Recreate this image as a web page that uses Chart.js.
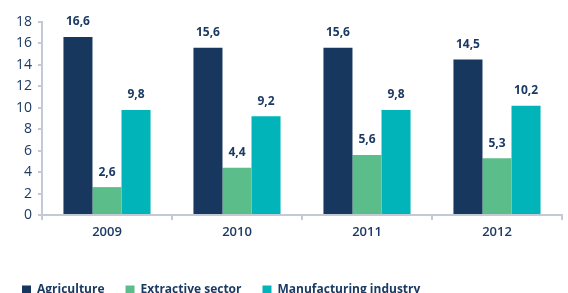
<!DOCTYPE html>
<html lang="en">
<head>
    <meta charset="UTF-8">
    <title>Sector shares</title>
    <script src="https://cdn.jsdelivr.net/npm/chart.js"></script>
    <style>
        html, body { margin: 0; padding: 0; background: #fff; overflow: hidden; }
        #wrap { width: 568px; height: 293px; overflow: hidden; }
    </style>
</head>
<body>
    <div id="wrap"><canvas id="sectorChart" width="568" height="306"></canvas></div>

    <script>
        // Data
        const years = ['2009', '2010', '2011', '2012'];
        const agriculture = [16.6, 15.6, 15.6, 14.5];
        const extractive = [2.6, 4.4, 5.6, 5.3];
        const manufacturing = [9.8, 9.2, 9.8, 10.2];
        const yTicks = [0, 2, 4, 6, 8, 10, 12, 14, 16, 18];

        const navy = '#1b3a63';
        const axisColor = '#c3cad6';
        const fontFamily = '"Open Sans", sans-serif';

        // Labels above bars, with comma decimal
        const valueLabels = {
            id: 'valueLabels',
            afterDatasetsDraw(chart) {
                const ctx = chart.ctx;
                ctx.save();
                ctx.font = 'bold 12px ' + fontFamily;
                ctx.fillStyle = navy;
                ctx.textAlign = 'center';
                ctx.textBaseline = 'bottom';
                chart.data.datasets.forEach((ds, i) => {
                    chart.getDatasetMeta(i).data.forEach((bar, j) => {
                        const txt = ds.data[j].toFixed(1).replace('.', ',');
                        ctx.fillText(txt, bar.x, bar.y - 9);
                    });
                });
                ctx.restore();
            }
        };

        new Chart(document.getElementById('sectorChart'), {
            type: 'bar',
            data: {
                labels: years,
                datasets: [
                    { label: 'Agriculture', data: agriculture, backgroundColor: '#17375e' },
                    { label: 'Extractive sector', data: extractive, backgroundColor: '#5bbd89' },
                    { label: 'Manufacturing industry', data: manufacturing, backgroundColor: '#00b4b9' }
                ]
            },
            options: {
                responsive: false,
                animation: false,
                layout: { padding: { top: 22, right: 6, left: 1, bottom: 0 } },
                datasets: { bar: { categoryPercentage: 0.67, barPercentage: 1.0 } },
                plugins: {
                    tooltip: { enabled: false },
                    legend: {
                        position: 'bottom',
                        align: 'start',
                        labels: {
                            boxWidth: 9,
                            boxHeight: 9,
                            padding: 21,
                            color: navy,
                            font: { family: fontFamily, size: 12, weight: 'bold' }
                        }
                    }
                },
                scales: {
                    x: {
                        border: { color: axisColor, width: 2 },
                        grid: { display: true, drawOnChartArea: false, drawTicks: true, tickLength: 5, color: axisColor, lineWidth: 2, offset: true },
                        ticks: { color: navy, font: { family: fontFamily, size: 13, weight: '600' }, padding: 4 },
                        afterFit(scale) { scale.height = 48; }
                    },
                    y: {
                        min: 0,
                        max: 18,
                        afterBuildTicks(scale) { scale.ticks = yTicks.map(v => ({ value: v })); },
                        border: { color: axisColor, width: 2 },
                        grid: { display: true, drawOnChartArea: false, drawTicks: true, tickLength: 4, color: axisColor, lineWidth: 2 },
                        ticks: { color: navy, font: { family: fontFamily, size: 14 }, padding: 6 },
                        afterFit(scale) { scale.width = 41; }
                    }
                }
            },
            plugins: [valueLabels]
        });
    </script>
</body>
</html>
